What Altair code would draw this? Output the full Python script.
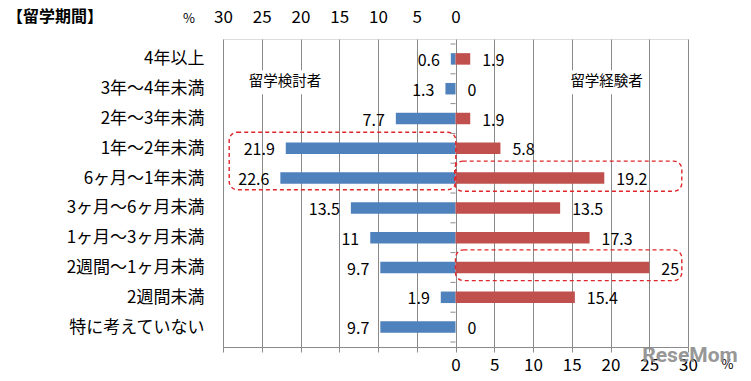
import json
import altair as alt
import pandas as pd

# ---- data ----
categories = ["4年以上", "3年～4年未満", "2年～3年未満", "1年～2年未満", "6ヶ月～1年未満",
              "3ヶ月～6ヶ月未満", "1ヶ月～3ヶ月未満", "2週間～1ヶ月未満", "2週間未満", "特に考えていない"]
considering = [0.6, 1.3, 7.7, 21.9, 22.6, 13.5, 11, 9.7, 1.9, 9.7]      # 留学検討者 (left)
experienced = [1.9, 0, 1.9, 5.8, 19.2, 13.5, 17.3, 25, 15.4, 0]          # 留学経験者 (right)
tick_values = [-30, -25, -20, -15, -10, -5, 0, 5, 10, 15, 20, 25, 30]
groups = ["留学検討者", "留学経験者"]
colors = ["#4F81BD", "#C0504D"]
title_text = "【留学期間】"

FONT = "Noto Sans CJK JP"
GRID = "#8a8a8a"

rows = []
for i, (c, b, r) in enumerate(zip(categories, considering, experienced)):
    rows.append(dict(idx=i, cat=c, group=groups[0], x=-b, x0=0, v=b))
    rows.append(dict(idx=i, cat=c, group=groups[1], x=r, x0=0, v=r))
df = pd.DataFrame(rows)

n = len(categories)
xscale = alt.Scale(domain=[-30, 30], nice=False, zero=False)
yscale = alt.Scale(domain=[-0.5, n - 0.5], reverse=True, nice=False, zero=False)

bottom_axis = alt.Axis(orient="bottom", values=tick_values, title=None,
                       labelExpr="datum.value >= 0 ? datum.value : ''",
                       grid=True, gridColor=GRID, gridOpacity=1, gridWidth=1,
                       domainColor=GRID, tickColor=GRID, tickSize=5,
                       labelFont=FONT, labelFontSize=17, labelColor="#000",
                       labelPadding=5, labelFlush=False, labelOverlap=False)
top_axis = alt.Axis(orient="top", values=tick_values, title=None,
                    labelExpr="datum.value <= 0 ? abs(datum.value) : ''",
                    grid=False, domain=False, ticks=False,
                    labelFont=FONT, labelFontSize=17, labelColor="#000",
                    labelPadding=13, labelFlush=False, labelOverlap=False)
cat_expr = json.dumps(categories, ensure_ascii=False) + "[datum.value]"
y_axis = alt.Axis(orient="left", values=list(range(n)), labelExpr=cat_expr, title=None,
                  grid=False, domain=False, ticks=False,
                  labelFont=FONT, labelFontSize=17, labelColor="#000",
                  labelPadding=19, labelOverlap=False, labelFlush=False)

base = alt.Chart(df)

bars = base.mark_bar(orient="horizontal", size=11.5).encode(
    x=alt.X("x:Q", scale=xscale, axis=bottom_axis),
    x2="x0:Q",
    y=alt.Y("idx:Q", scale=yscale, axis=y_axis),
    color=alt.Color("group:N", scale=alt.Scale(domain=groups, range=colors), legend=None),
)

# invisible layer that carries the top axis
top = base.mark_point(opacity=0).encode(
    x=alt.X("x:Q", scale=xscale, axis=top_axis),
    y=alt.Y("idx:Q", scale=yscale, axis=None),
)

left_labels = base.transform_filter(alt.datum.group == groups[0]).mark_text(
    align="right", baseline="middle", dx=-11, dy=2, font=FONT, fontSize=16, color="#000"
).encode(
    x=alt.X("x:Q", scale=xscale, axis=None),
    y=alt.Y("idx:Q", scale=yscale, axis=None),
    text=alt.Text("v:Q", format=".1~f"),
)
right_labels = base.transform_filter(alt.datum.group == groups[1]).mark_text(
    align="left", baseline="middle", dx=12, dy=2, font=FONT, fontSize=16, color="#000"
).encode(
    x=alt.X("x:Q", scale=xscale, axis=None),
    y=alt.Y("idx:Q", scale=yscale, axis=None),
    text=alt.Text("v:Q", format=".1~f"),
)

# small ticks on the zero line between categories
bounds = pd.DataFrame({"b": [i + 0.5 for i in range(-1, n)], "xa": -0.65, "xb": 0})
zero_ticks = alt.Chart(bounds).mark_rule(color=GRID, strokeWidth=1).encode(
    x=alt.X("xa:Q", scale=xscale, axis=None),
    x2="xb:Q",
    y=alt.Y("b:Q", scale=yscale, axis=None),
)

# group annotations with white backing
ann = pd.DataFrame({
    "label": groups,
    "x": [-22.0, 19.5],
    "y": [0.77, 0.77],
    "x1": [-27.3, 14.2], "x2": [-16.7, 24.8],
    "y1": [0.38, 0.38], "y2": [1.19, 1.19],
})
ann_bg = alt.Chart(ann).mark_rect(color="white").encode(
    x=alt.X("x1:Q", scale=xscale, axis=None), x2="x2:Q",
    y=alt.Y("y1:Q", scale=yscale, axis=None), y2="y2:Q",
)
ann_text = alt.Chart(ann).mark_text(font=FONT, fontSize=14.5, color="#000", baseline="middle").encode(
    x=alt.X("x:Q", scale=xscale, axis=None),
    y=alt.Y("y:Q", scale=yscale, axis=None),
    text="label:N",
)

# dashed highlight boxes
boxes = pd.DataFrame({
    "x1": [-29.2, -0.1, 0.0], "x2": [0.04, 29.2, 29.2],
    "y1": [2.46, 3.43, 6.41], "y2": [4.39, 4.44, 7.44],
})
box_marks = alt.Chart(boxes).mark_rect(
    fillOpacity=0, stroke="#E0262B", strokeWidth=1.4, strokeDash=[4, 3], cornerRadius=8
).encode(
    x=alt.X("x1:Q", scale=xscale, axis=None), x2="x2:Q",
    y=alt.Y("y1:Q", scale=yscale, axis=None), y2="y2:Q",
)

# extra texts: title, % units, watermark
extras = pd.DataFrame({"t": [title_text]})
title_mark = alt.Chart(extras).mark_text(
    font=FONT, fontSize=16, fontWeight="bold", align="left", baseline="middle", color="#000"
).encode(x=alt.value(-216), y=alt.value(-22), text="t:N")

pct = pd.DataFrame({"t": ["%", "%"], "px": [-34.4, 35.1], "py": [-20, 326]})
pct_mark = alt.Chart(pct).mark_text(font=FONT, fontSize=13, color="#000", baseline="middle").encode(
    x=alt.X("px:Q", scale=xscale, axis=None),
    y=alt.Y("py:Q", axis=None, scale=None),
    text="t:N",
)

wm = pd.DataFrame({"t": ["ReseMom"]})
wm_mark = alt.Chart(wm).mark_text(
    font="Roboto", fontSize=21, fontWeight="bold", color="#8c8c8c", opacity=0.9, baseline="middle"
).encode(x=alt.value(467), y=alt.value(317), text="t:N")

chart = alt.layer(
    bars, top, zero_ticks, ann_bg, ann_text, box_marks,
    left_labels, right_labels, title_mark, pct_mark, wm_mark
).resolve_axis(x="independent", y="independent").properties(
    width=465, height=308,
    autosize=alt.AutoSizeParams(type="none"),
    padding={"left": 215, "top": 31, "right": 55, "bottom": 26},
).configure_view(stroke=None).configure(font=FONT)

chart.save("out.html", embed_options={"renderer": "svg", "actions": False})
